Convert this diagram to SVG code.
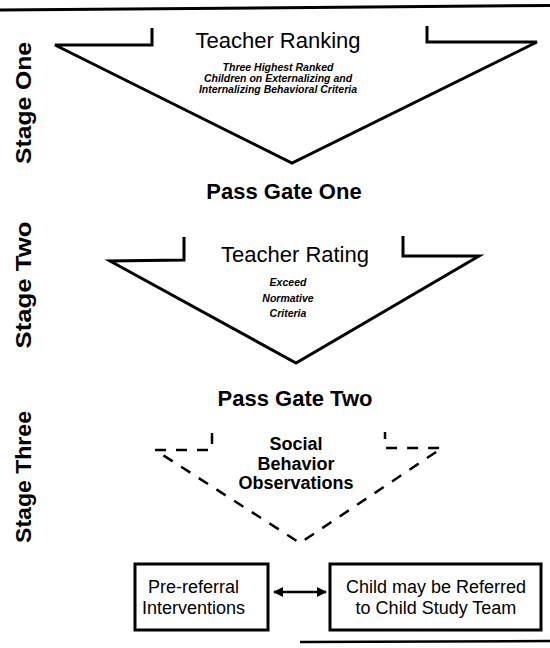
<svg xmlns="http://www.w3.org/2000/svg" width="550" height="648" viewBox="0 0 550 648">
<style>
.shape{fill:none;stroke:#000;stroke-width:3;stroke-linejoin:miter}
.dash{fill:none;stroke:#000;stroke-width:2.5;stroke-dasharray:11 10}
.title{font-family:"Liberation Sans",Arial,sans-serif;font-size:22px;text-anchor:middle;fill:#000}
.sub{font-family:"Liberation Sans",Arial,sans-serif;font-size:10.5px;font-weight:bold;font-style:italic;text-anchor:middle;fill:#000}
.gate{font-family:"Liberation Sans",Arial,sans-serif;font-size:22px;font-weight:bold;text-anchor:middle;fill:#000}
.stage{font-family:"Liberation Sans",Arial,sans-serif;font-size:22px;font-weight:bold;text-anchor:middle;fill:#000}
.obs{font-family:"Liberation Sans",Arial,sans-serif;font-size:18px;font-weight:bold;text-anchor:middle;fill:#000}
.box{fill:#fff;stroke:#000;stroke-width:3}
.boxt{font-family:"Liberation Sans",Arial,sans-serif;font-size:18px;fill:#000}
</style>
<defs>
<marker id="ah" viewBox="0 0 10 10" refX="9" refY="5" markerWidth="4" markerHeight="4" orient="auto-start-reverse">
<path d="M0,0 L10,5 L0,10 z" fill="#000"/>
</marker>
</defs>
<line x1="0" y1="10" x2="550" y2="5.5" stroke="#000" stroke-width="3"/>
<line x1="300" y1="642" x2="550" y2="641" stroke="#000" stroke-width="2.5"/>

<g id="stage-labels">
<text class="stage" transform="translate(31,103) rotate(-90)" textLength="122" lengthAdjust="spacingAndGlyphs">Stage One</text>
<text class="stage" transform="translate(31,285) rotate(-90)" textLength="127" lengthAdjust="spacingAndGlyphs">Stage Two</text>
<text class="stage" transform="translate(31,477) rotate(-90)" textLength="132" lengthAdjust="spacingAndGlyphs">Stage Three</text>
</g>

<g id="stage-one">
<polyline class="shape" points="152,28 152,45 55,45 292,163 537,42 427,42 427,26"/>
<text class="title" x="278" y="48">Teacher Ranking</text>
<text class="sub" x="278" y="71">Three Highest Ranked</text>
<text class="sub" x="278" y="82">Children on Externalizing and</text>
<text class="sub" x="278" y="93">Internalizing Behavioral Criteria</text>
</g>

<g id="gate-one">
<text class="gate" x="284" y="199">Pass Gate One</text>
</g>

<g id="stage-two">
<polyline class="shape" points="184,237 184,260 110,261 296,363 479,256 403,256 403,236"/>
<text class="title" x="295" y="262">Teacher Rating</text>
<text class="sub" x="288" y="286">Exceed</text>
<text class="sub" x="288" y="302">Normative</text>
<text class="sub" x="288" y="317">Criteria</text>
</g>

<g id="gate-two">
<text class="gate" x="295" y="406">Pass Gate Two</text>
</g>

<g id="stage-three">
<polyline class="dash" points="212,433 212,450 155,450 300,543 442,448 385,448 385,432"/>
<text class="obs" x="296" y="450">Social</text>
<text class="obs" x="296" y="470">Behavior</text>
<text class="obs" x="296" y="489">Observations</text>
</g>

<g id="pre-referral">
<rect class="box" x="135" y="564" width="133" height="66"/>
<text class="boxt" x="148" y="593">Pre-referral</text>
<text class="boxt" x="142" y="614">Interventions</text>
</g>

<g id="child-study-team">
<rect class="box" x="330" y="564" width="211" height="66"/>
<text class="boxt" x="436" y="593" text-anchor="middle">Child may be Referred</text>
<text class="boxt" x="436" y="614" text-anchor="middle">to Child Study Team</text>
</g>

<g id="connectors">
<line x1="274" y1="592" x2="326" y2="592" stroke="#000" stroke-width="2.5" marker-start="url(#ah)" marker-end="url(#ah)"/>
</g>
</svg>
